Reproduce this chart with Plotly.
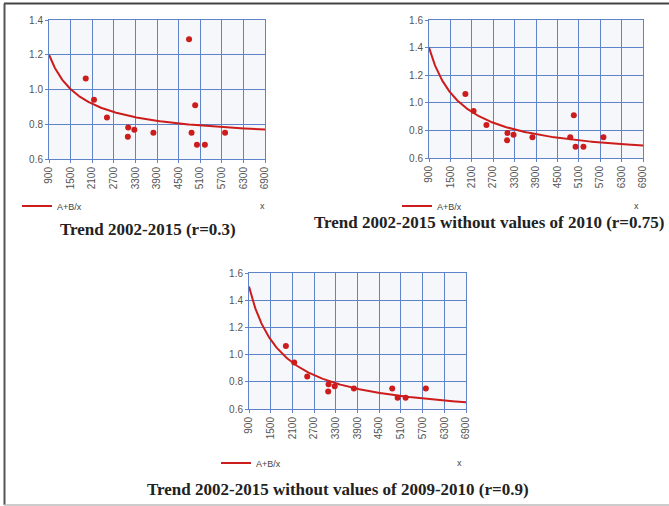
import numpy as np
import plotly.graph_objects as go

# Observations (x, ratio) for 2002-2015
obs_x = [1920, 2150, 2510, 3090, 3100, 3270, 3800, 4790, 4860, 4960, 5010, 5230, 5790]
obs_y = [1.063, 0.941, 0.839, 0.728, 0.782, 0.768, 0.751, 1.289, 0.751, 0.910, 0.682, 0.682, 0.751]
obs_year = [2002, 2003, 2004, 2005, 2006, 2007, 2008, 2010, 2011, 2009, 2012, 2013, 2014]

# Fitted A + B/x parameters for each trend
fit_A = [0.7055, 0.5835, 0.5225]
fit_B = [445.0, 735.0, 880.0]
excluded = [[], [2010], [2009, 2010]]
titles = [
    "Trend 2002-2015 (r=0.3)",
    "Trend 2002-2015 without values of 2010 (r=0.75)",
    "Trend 2002-2015 without values of 2009-2010 (r=0.9)",
]
y_ranges = [[0.6, 1.4], [0.6, 1.6], [0.6, 1.6]]
x_ticks = [900, 1500, 2100, 2700, 3300, 3900, 4500, 5100, 5700, 6300, 6900]

W, H = 669, 506
def px(v):
    return v / W
def py(v):
    return 1 - v / H

# panel boxes in pixels: left, right, top, bottom
boxes = [(49, 265, 20, 159), (429, 643, 20, 158), (249, 466, 273, 409)]
legend_pos = [(17, 206), (397, 206), (216, 463)]
xlabel_pos = [(262, 206), (636, 206), (460, 463)]
title_pos = [(148, 229), (489, 222), (338, 489)]

GRID = "#5f83c8"
RED = "#cc1c1c"
TICKFONT = dict(family="Liberation Sans, Arial", size=10, color="#555555")

fig = go.Figure()
annotations = []
for i in range(3):
    sfx = "" if i == 0 else str(i + 1)
    keep = [k for k, yr in enumerate(obs_year) if yr not in excluded[i]]
    xs = [obs_x[k] for k in keep]
    ys = [obs_y[k] for k in keep]
    cx = np.linspace(900, 6900, 300)
    cy = fit_A[i] + fit_B[i] / cx
    lg = "legend" + sfx
    fig.add_trace(go.Scatter(
        x=cx, y=cy, mode="lines", name="A+B/x",
        line=dict(color=RED, width=2),
        xaxis="x" + sfx, yaxis="y" + sfx, legend=lg, showlegend=True))
    fig.add_trace(go.Scatter(
        x=xs, y=ys, mode="markers", name="data",
        marker=dict(color=RED, size=6),
        xaxis="x" + sfx, yaxis="y" + sfx, showlegend=False))

    l, r, t, b = boxes[i]
    common = dict(showgrid=True, gridcolor=GRID, gridwidth=1, showline=True,
                  linecolor=GRID, linewidth=1, mirror=True, ticks="outside",
                  ticklen=3, tickcolor=GRID, tickfont=TICKFONT, zeroline=False,
                  fixedrange=True, automargin=False)
    fig.update_layout({
        "xaxis" + sfx: dict(domain=[px(l), px(r)], range=[900, 6900],
                            tickvals=x_ticks, tickangle=-90,
                            anchor="y" + sfx, **common),
        "yaxis" + sfx: dict(domain=[py(b), py(t)], range=y_ranges[i], dtick=0.2,
                            tickformat=".1f", anchor="x" + sfx, **common),
        lg: dict(x=px(legend_pos[i][0]), y=py(legend_pos[i][1]),
                 xanchor="left", yanchor="middle", bgcolor="rgba(0,0,0,0)",
                 font=dict(family="Liberation Sans, Arial", size=9, color="#444444"),
                 itemwidth=30, tracegroupgap=0),
    })
    annotations.append(dict(x=px(xlabel_pos[i][0]), y=py(xlabel_pos[i][1]),
                            xref="paper", yref="paper", text="x", showarrow=False,
                            xanchor="center", yanchor="middle",
                            font=dict(family="Liberation Sans, Arial", size=9, color="#444444")))
    annotations.append(dict(x=px(title_pos[i][0]), y=py(title_pos[i][1]),
                            xref="paper", yref="paper", text="<b>" + titles[i] + "</b>",
                            showarrow=False, xanchor="center", yanchor="middle",
                            font=dict(family="Liberation Serif, Times New Roman", size=17,
                                      color="#222222")))

# frame around the figure
shapes = [
    dict(type="line", xref="paper", yref="paper", x0=px(4), x1=1, y0=py(3.5), y1=py(3.5),
         line=dict(color="#444444", width=2)),
    dict(type="line", xref="paper", yref="paper", x0=px(4.5), x1=px(4.5), y0=py(3.5), y1=py(505),
         line=dict(color="#555555", width=2)),
    dict(type="line", xref="paper", yref="paper", x0=px(4), x1=1, y0=py(505), y1=py(505),
         line=dict(color="#bbbbbb", width=1.5)),
]

fig.update_layout(
    width=W, height=H, margin=dict(l=0, r=0, t=0, b=0, autoexpand=False),
    paper_bgcolor="white", plot_bgcolor="#f6f7fa",
    annotations=annotations, shapes=shapes,
)
fig.write_html("out.html")
